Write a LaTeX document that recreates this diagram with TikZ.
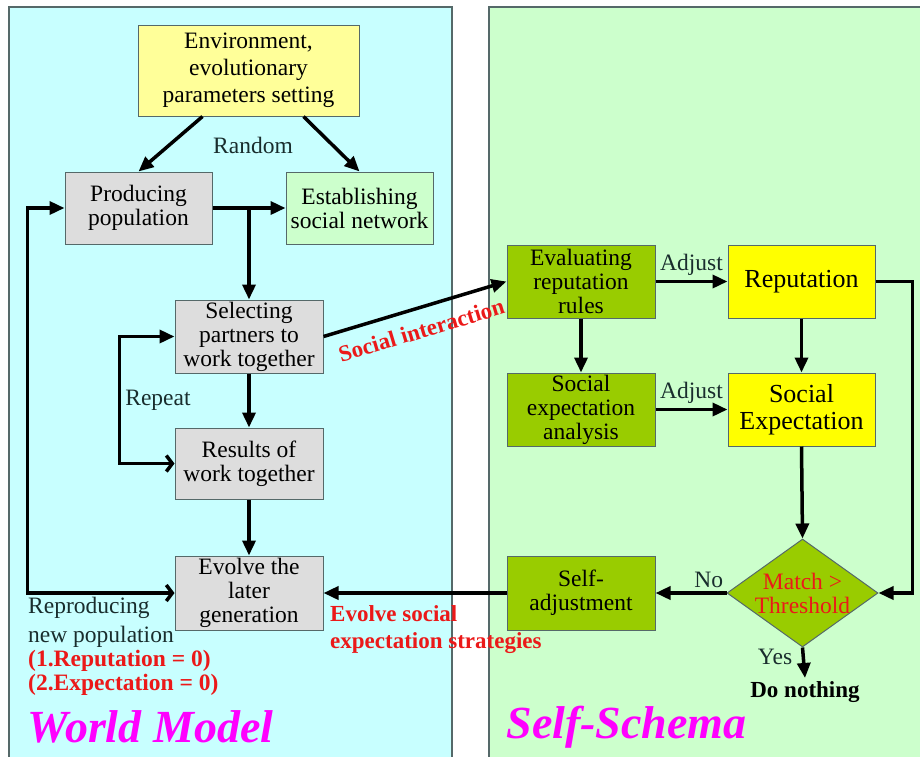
\documentclass[tikz,border=0pt]{standalone}
\usepackage{fontspec}
\setmainfont{Liberation Serif}
\usetikzlibrary{arrows.meta,shapes.geometric}
\definecolor{worldbg}{RGB}{200,255,255}
\definecolor{selfbg}{RGB}{204,255,204}
\definecolor{envyellow}{RGB}{255,255,153}
\definecolor{boxgray}{RGB}{221,221,221}
\definecolor{leafgreen}{RGB}{153,204,0}
\definecolor{brightyellow}{RGB}{255,255,0}
\definecolor{labelred}{RGB}{235,25,25}
\definecolor{titlemagenta}{RGB}{255,0,255}
\definecolor{edgegray}{RGB}{85,105,105}
\definecolor{labeltxt}{RGB}{25,45,45}
\begin{document}
\begin{tikzpicture}[x=1pt,y=-1pt,font=\fontsize{23.5}{24}\selectfont,
  box/.style={draw=edgegray,line width=1pt,minimum width=148pt,minimum height=73pt,align=center,inner sep=0pt},
  arr/.style={line width=3.5pt,-{Triangle[length=15pt,width=13pt]}},
  barbarr/.style={line width=3.5pt,{Straight Barb[length=6pt,width=16pt]}-{Triangle[length=15pt,width=13pt]}},
  lbl/.style={text=labeltxt},
  redlbl/.style={text=labelred,font=\fontsize{23}{27}\selectfont\bfseries},
  title/.style={text=titlemagenta,font=\fontsize{46}{46}\selectfont\bfseries\itshape,anchor=west}]
\useasboundingbox (0,0) rectangle (920,756);
\filldraw[fill=worldbg,draw=edgegray,line width=1.5pt] (9,7) rectangle (452,775);
\filldraw[fill=selfbg,draw=edgegray,line width=1.5pt] (489,7) rectangle (940,775);
%
\node[box,fill=envyellow,minimum width=221pt,minimum height=91pt,font=\fontsize{23.5}{27}\selectfont] (env) at (248.5,70.5) {Environment,\\evolutionary\\parameters setting};
\node[box,fill=boxgray,minimum width=147pt,minimum height=72pt] (prod) at (138.5,208) {Producing\\population};
\node[box,fill=selfbg,minimum width=147pt,minimum height=72pt] (est) at (359.5,208) {Establishing\\social network};
\node[box,fill=boxgray] (sel) at (249,336.5) {Selecting\\partners to\\work together};
\node[box,fill=boxgray,minimum height=71pt] (res) at (249,463.5) {Results of\\work together};
\node[box,fill=boxgray,minimum height=74pt] (evolve) at (249,593) {Evolve the\\later\\generation};
\node[lbl] (random) at (253,145) {Random};
\node[lbl] (repeat) at (158,400) {Repeat};
\node[lbl,anchor=north west,align=left,inner sep=0pt] (repro) at (28,597) {Reproducing\\[5pt]new population\\
  \textcolor{labelred}{\bfseries (1.Reputation = 0)}\\\textcolor{labelred}{\bfseries (2.Expectation = 0)}};
\node[title] (world) at (24,727) {World Model};
%
\node[box,fill=leafgreen] (eval) at (581,281.5) {Evaluating\\reputation\\rules};
\node[box,fill=leafgreen] (sea) at (581,409.5) {Social\\expectation\\analysis};
\node[box,fill=brightyellow,minimum width=147pt,font=\fontsize{26}{27}\selectfont] (rep) at (801.5,281.5) {Reputation};
\node[box,fill=brightyellow,minimum width=147pt,font=\fontsize{26}{27}\selectfont] (se) at (801.5,409.5) {Social\\Expectation};
\node[diamond,draw=edgegray,line width=1pt,fill=leafgreen,minimum width=151pt,minimum height=108pt,inner sep=0pt] (match) at (802.5,593) {};
\node[text=labelred,align=center] (matchtxt) at (match) {Match >\\Threshold};
\node[box,fill=leafgreen,minimum height=74pt] (selfadj) at (581,593) {Self-\\adjustment};
\node[font=\fontsize{23}{26}\selectfont\bfseries] (nothing) at (805,692) {Do nothing};
\node[redlbl,anchor=north west,align=left,inner sep=0pt] (evolvelbl) at (330,605) {Evolve social\\expectation strategies};
\node[title] (schema) at (503,727) {Self-Schema};
%
\draw[arr] ([xshift=-46pt]env.south) -- (prod.north);
\draw[arr] ([xshift=55pt]env.south) -- (est.north);
\draw[arr] (prod.east) -- (est.west);
\draw[arr] (prod.east -| sel.north) -- (sel.north);
\draw[arr] (sel.south) -- (res.north);
\draw[arr] (res.south) -- (evolve.north);
\draw[barbarr] (res.west) -- ++(-55,0) |- (sel.west);
\draw[barbarr] (evolve.west) -- ++(-147,0) |- (prod.west);
\draw[arr] (sel.east) -- node[redlbl,sloped,below=9pt] (socint) {Social interaction} (eval.west);
%
\draw[arr] (eval.east) -- node[lbl,above=1pt] (adjust1) {Adjust} (rep.west);
\draw[arr] (sea.east) -- node[lbl,above=1pt] (adjust2) {Adjust} (se.west);
\draw[arr] (eval.south) -- (sea.north);
\draw[arr] (rep.south) -- (se.north);
\draw[arr] (se.south) -- (match.north);
\draw[arr] (rep.east) -- ++(37,0) |- (match.east);
\draw[arr] (match.west) -- node[lbl,above,pos=0.25] (no) {No} (selfadj.east);
\draw[arr] (selfadj.west) -- (evolve.east);
\draw[arr] (match.south) -- node[lbl,left=6pt,pos=0.3] (yes) {Yes} (nothing.north);
\end{tikzpicture}
\end{document}
